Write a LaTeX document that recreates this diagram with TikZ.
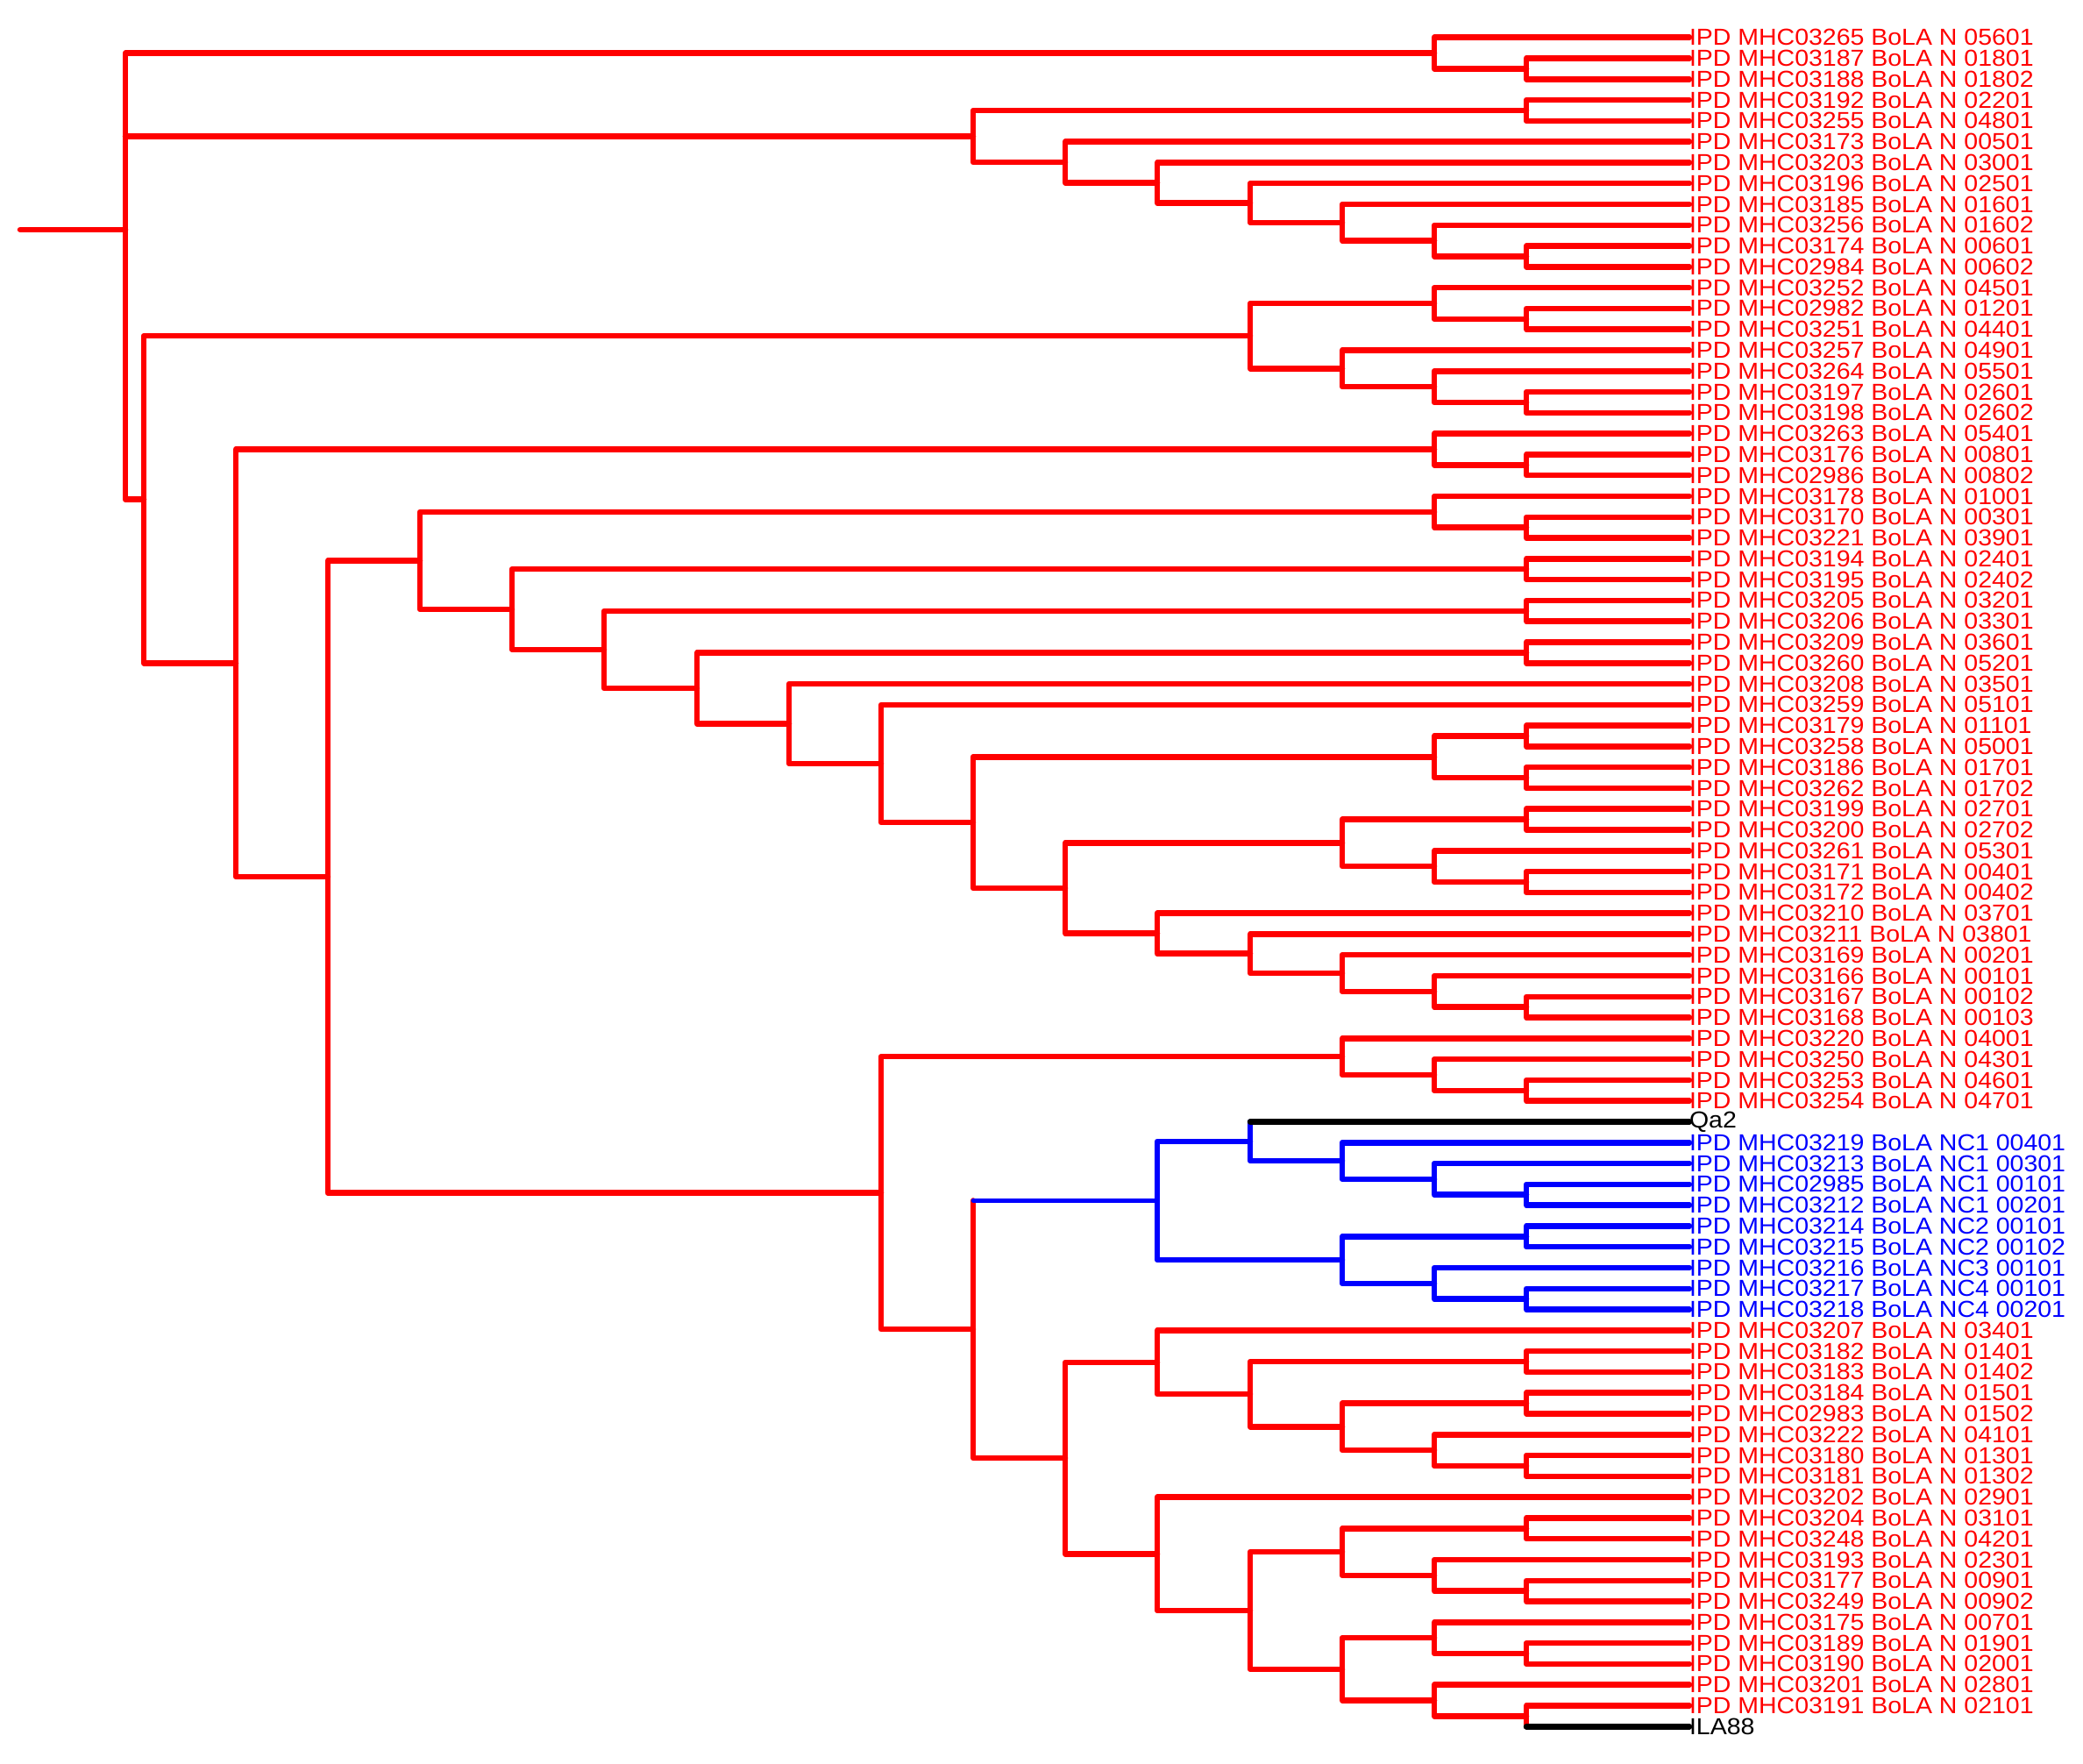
\documentclass[tikz,border=0pt]{standalone}
\usepackage{fontspec}
\newfontfamily\tipfont[FakeStretch=1.08]{Liberation Sans}
\usetikzlibrary{calc}

\begin{document}
\begin{tikzpicture}[x=0.01cm, y=-0.2377cm,
  treeline/.style={red, line width=1.85pt, line cap=round, line join=round},
  ncline/.style={treeline, blue},
  outgroup/.style={treeline, black},
  leaflabel/.style={anchor=west, inner sep=0pt, outer sep=0pt, text=red, font=\tipfont\fontsize{7.5}{8}\selectfont},
  ncleaf/.style={leaflabel, text=blue},
  outleaf/.style={leaflabel, text=black}]
\useasboundingbox (0,-0.7964) rectangle (2376,83.763);

\node[leaflabel] (t1) at (1927,1) {IPD MHC03265 BoLA N 05601};
\node[leaflabel] (t2) at (1927,2) {IPD MHC03187 BoLA N 01801};
\node[leaflabel] (t3) at (1927,3) {IPD MHC03188 BoLA N 01802};
\node[leaflabel] (t4) at (1927,4) {IPD MHC03192 BoLA N 02201};
\node[leaflabel] (t5) at (1927,5) {IPD MHC03255 BoLA N 04801};
\node[leaflabel] (t6) at (1927,6) {IPD MHC03173 BoLA N 00501};
\node[leaflabel] (t7) at (1927,7) {IPD MHC03203 BoLA N 03001};
\node[leaflabel] (t8) at (1927,8) {IPD MHC03196 BoLA N 02501};
\node[leaflabel] (t9) at (1927,9) {IPD MHC03185 BoLA N 01601};
\node[leaflabel] (t10) at (1927,10) {IPD MHC03256 BoLA N 01602};
\node[leaflabel] (t11) at (1927,11) {IPD MHC03174 BoLA N 00601};
\node[leaflabel] (t12) at (1927,12) {IPD MHC02984 BoLA N 00602};
\node[leaflabel] (t13) at (1927,13) {IPD MHC03252 BoLA N 04501};
\node[leaflabel] (t14) at (1927,14) {IPD MHC02982 BoLA N 01201};
\node[leaflabel] (t15) at (1927,15) {IPD MHC03251 BoLA N 04401};
\node[leaflabel] (t16) at (1927,16) {IPD MHC03257 BoLA N 04901};
\node[leaflabel] (t17) at (1927,17) {IPD MHC03264 BoLA N 05501};
\node[leaflabel] (t18) at (1927,18) {IPD MHC03197 BoLA N 02601};
\node[leaflabel] (t19) at (1927,19) {IPD MHC03198 BoLA N 02602};
\node[leaflabel] (t20) at (1927,20) {IPD MHC03263 BoLA N 05401};
\node[leaflabel] (t21) at (1927,21) {IPD MHC03176 BoLA N 00801};
\node[leaflabel] (t22) at (1927,22) {IPD MHC02986 BoLA N 00802};
\node[leaflabel] (t23) at (1927,23) {IPD MHC03178 BoLA N 01001};
\node[leaflabel] (t24) at (1927,24) {IPD MHC03170 BoLA N 00301};
\node[leaflabel] (t25) at (1927,25) {IPD MHC03221 BoLA N 03901};
\node[leaflabel] (t26) at (1927,26) {IPD MHC03194 BoLA N 02401};
\node[leaflabel] (t27) at (1927,27) {IPD MHC03195 BoLA N 02402};
\node[leaflabel] (t28) at (1927,28) {IPD MHC03205 BoLA N 03201};
\node[leaflabel] (t29) at (1927,29) {IPD MHC03206 BoLA N 03301};
\node[leaflabel] (t30) at (1927,30) {IPD MHC03209 BoLA N 03601};
\node[leaflabel] (t31) at (1927,31) {IPD MHC03260 BoLA N 05201};
\node[leaflabel] (t32) at (1927,32) {IPD MHC03208 BoLA N 03501};
\node[leaflabel] (t33) at (1927,33) {IPD MHC03259 BoLA N 05101};
\node[leaflabel] (t34) at (1927,34) {IPD MHC03179 BoLA N 01101};
\node[leaflabel] (t35) at (1927,35) {IPD MHC03258 BoLA N 05001};
\node[leaflabel] (t36) at (1927,36) {IPD MHC03186 BoLA N 01701};
\node[leaflabel] (t37) at (1927,37) {IPD MHC03262 BoLA N 01702};
\node[leaflabel] (t38) at (1927,38) {IPD MHC03199 BoLA N 02701};
\node[leaflabel] (t39) at (1927,39) {IPD MHC03200 BoLA N 02702};
\node[leaflabel] (t40) at (1927,40) {IPD MHC03261 BoLA N 05301};
\node[leaflabel] (t41) at (1927,41) {IPD MHC03171 BoLA N 00401};
\node[leaflabel] (t42) at (1927,42) {IPD MHC03172 BoLA N 00402};
\node[leaflabel] (t43) at (1927,43) {IPD MHC03210 BoLA N 03701};
\node[leaflabel] (t44) at (1927,44) {IPD MHC03211 BoLA N 03801};
\node[leaflabel] (t45) at (1927,45) {IPD MHC03169 BoLA N 00201};
\node[leaflabel] (t46) at (1927,46) {IPD MHC03166 BoLA N 00101};
\node[leaflabel] (t47) at (1927,47) {IPD MHC03167 BoLA N 00102};
\node[leaflabel] (t48) at (1927,48) {IPD MHC03168 BoLA N 00103};
\node[leaflabel] (t49) at (1927,49) {IPD MHC03220 BoLA N 04001};
\node[leaflabel] (t50) at (1927,50) {IPD MHC03250 BoLA N 04301};
\node[leaflabel] (t51) at (1927,51) {IPD MHC03253 BoLA N 04601};
\node[leaflabel] (t52) at (1927,52) {IPD MHC03254 BoLA N 04701};
\node[outleaf] (t53) at (1927,53) {Qa2};
\node[ncleaf] (t54) at (1927,54) {IPD MHC03219 BoLA NC1 00401};
\node[ncleaf] (t55) at (1927,55) {IPD MHC03213 BoLA NC1 00301};
\node[ncleaf] (t56) at (1927,56) {IPD MHC02985 BoLA NC1 00101};
\node[ncleaf] (t57) at (1927,57) {IPD MHC03212 BoLA NC1 00201};
\node[ncleaf] (t58) at (1927,58) {IPD MHC03214 BoLA NC2 00101};
\node[ncleaf] (t59) at (1927,59) {IPD MHC03215 BoLA NC2 00102};
\node[ncleaf] (t60) at (1927,60) {IPD MHC03216 BoLA NC3 00101};
\node[ncleaf] (t61) at (1927,61) {IPD MHC03217 BoLA NC4 00101};
\node[ncleaf] (t62) at (1927,62) {IPD MHC03218 BoLA NC4 00201};
\node[leaflabel] (t63) at (1927,63) {IPD MHC03207 BoLA N 03401};
\node[leaflabel] (t64) at (1927,64) {IPD MHC03182 BoLA N 01401};
\node[leaflabel] (t65) at (1927,65) {IPD MHC03183 BoLA N 01402};
\node[leaflabel] (t66) at (1927,66) {IPD MHC03184 BoLA N 01501};
\node[leaflabel] (t67) at (1927,67) {IPD MHC02983 BoLA N 01502};
\node[leaflabel] (t68) at (1927,68) {IPD MHC03222 BoLA N 04101};
\node[leaflabel] (t69) at (1927,69) {IPD MHC03180 BoLA N 01301};
\node[leaflabel] (t70) at (1927,70) {IPD MHC03181 BoLA N 01302};
\node[leaflabel] (t71) at (1927,71) {IPD MHC03202 BoLA N 02901};
\node[leaflabel] (t72) at (1927,72) {IPD MHC03204 BoLA N 03101};
\node[leaflabel] (t73) at (1927,73) {IPD MHC03248 BoLA N 04201};
\node[leaflabel] (t74) at (1927,74) {IPD MHC03193 BoLA N 02301};
\node[leaflabel] (t75) at (1927,75) {IPD MHC03177 BoLA N 00901};
\node[leaflabel] (t76) at (1927,76) {IPD MHC03249 BoLA N 00902};
\node[leaflabel] (t77) at (1927,77) {IPD MHC03175 BoLA N 00701};
\node[leaflabel] (t78) at (1927,78) {IPD MHC03189 BoLA N 01901};
\node[leaflabel] (t79) at (1927,79) {IPD MHC03190 BoLA N 02001};
\node[leaflabel] (t80) at (1927,80) {IPD MHC03201 BoLA N 02801};
\node[leaflabel] (t81) at (1927,81) {IPD MHC03191 BoLA N 02101};
\node[outleaf] (t82) at (1927,82) {ILA88};

\coordinate (stub) at (23,10.2162);
\coordinate (root) at (143,10.2162);
\coordinate (c2x3) at (1741,2.5);
\coordinate (c1x3) at (1636,1.75);
\coordinate (c4x5) at (1741,4.5);
\coordinate (c11x12) at (1741,11.5);
\coordinate (c10x12) at (1636,10.75);
\coordinate (c9x12) at (1531,9.875);
\coordinate (c8x12) at (1426,8.9375);
\coordinate (c7x12) at (1320,7.96875);
\coordinate (c6x12) at (1215,6.984375);
\coordinate (c4x12) at (1110,5.7421875);
\coordinate (c14x15) at (1741,14.5);
\coordinate (c13x15) at (1636,13.75);
\coordinate (c18x19) at (1741,18.5);
\coordinate (c17x19) at (1636,17.75);
\coordinate (c16x19) at (1531,16.875);
\coordinate (c13x19) at (1426,15.3125);
\coordinate (c21x22) at (1741,21.5);
\coordinate (c20x22) at (1636,20.75);
\coordinate (c24x25) at (1741,24.5);
\coordinate (c23x25) at (1636,23.75);
\coordinate (c26x27) at (1741,26.5);
\coordinate (c28x29) at (1741,28.5);
\coordinate (c30x31) at (1741,30.5);
\coordinate (c34x35) at (1741,34.5);
\coordinate (c36x37) at (1741,36.5);
\coordinate (c34x37) at (1636,35.5);
\coordinate (c38x39) at (1741,38.5);
\coordinate (c41x42) at (1741,41.5);
\coordinate (c40x42) at (1636,40.75);
\coordinate (c38x42) at (1531,39.625);
\coordinate (c47x48) at (1741,47.5);
\coordinate (c46x48) at (1636,46.75);
\coordinate (c45x48) at (1531,45.875);
\coordinate (c44x48) at (1426,44.9375);
\coordinate (c43x48) at (1320,43.96875);
\coordinate (c38x48) at (1215,41.796875);
\coordinate (c34x48) at (1110,38.6484);
\coordinate (c33x48) at (1005,35.8242);
\coordinate (c32x48) at (900,33.9121);
\coordinate (c30x48) at (795,32.2061);
\coordinate (c28x48) at (689,30.3530);
\coordinate (c26x48) at (584,28.4265);
\coordinate (c23x48) at (479,26.0883);
\coordinate (c51x52) at (1741,51.5);
\coordinate (c50x52) at (1636,50.75);
\coordinate (c49x52) at (1531,49.875);
\coordinate (c56x57) at (1741,56.5);
\coordinate (c55x57) at (1636,55.75);
\coordinate (c54x57) at (1531,54.875);
\coordinate (c53x57) at (1426,53.9375);
\coordinate (c58x59) at (1741,58.5);
\coordinate (c61x62) at (1741,61.5);
\coordinate (c60x62) at (1636,60.75);
\coordinate (c58x62) at (1531,59.625);
\coordinate (c53x62) at (1320,56.78125);
\coordinate (c64x65) at (1741,64.5);
\coordinate (c66x67) at (1741,66.5);
\coordinate (c69x70) at (1741,69.5);
\coordinate (c68x70) at (1636,68.75);
\coordinate (c66x70) at (1531,67.625);
\coordinate (c64x70) at (1426,66.0625);
\coordinate (c63x70) at (1320,64.53125);
\coordinate (c72x73) at (1741,72.5);
\coordinate (c75x76) at (1741,75.5);
\coordinate (c74x76) at (1636,74.75);
\coordinate (c72x76) at (1531,73.625);
\coordinate (c78x79) at (1741,78.5);
\coordinate (c77x79) at (1636,77.75);
\coordinate (c81x82) at (1741,81.5);
\coordinate (c80x82) at (1636,80.75);
\coordinate (c77x82) at (1531,79.25);
\coordinate (c72x82) at (1426,76.4375);
\coordinate (c71x82) at (1320,73.71875);
\coordinate (c63x82) at (1215,69.125);
\coordinate (c53x82) at (1110,62.953125);
\coordinate (c49x82) at (1005,56.4141);
\coordinate (c23x82) at (374,41.2512);
\coordinate (c20x82) at (269,31.0006);
\coordinate (c13x82) at (164,23.1565);

\draw[treeline] (stub) -- (root);
\draw[treeline] (c1x3) -| (root) |- (c13x82);
\draw[treeline] (root |- c4x12) -- (c4x12);
\draw[treeline] (t1.west) -| (c1x3) |- (c2x3);
\draw[treeline] (t2.west) -| (c2x3) |- (t3.west);
\draw[treeline] (c4x5) -| (c4x12) |- (c6x12);
\draw[treeline] (t4.west) -| (c4x5) |- (t5.west);
\draw[treeline] (t6.west) -| (c6x12) |- (c7x12);
\draw[treeline] (t7.west) -| (c7x12) |- (c8x12);
\draw[treeline] (t8.west) -| (c8x12) |- (c9x12);
\draw[treeline] (t9.west) -| (c9x12) |- (c10x12);
\draw[treeline] (t10.west) -| (c10x12) |- (c11x12);
\draw[treeline] (t11.west) -| (c11x12) |- (t12.west);
\draw[treeline] (c13x19) -| (c13x82) |- (c20x82);
\draw[treeline] (c13x15) -| (c13x19) |- (c16x19);
\draw[treeline] (t13.west) -| (c13x15) |- (c14x15);
\draw[treeline] (t14.west) -| (c14x15) |- (t15.west);
\draw[treeline] (t16.west) -| (c16x19) |- (c17x19);
\draw[treeline] (t17.west) -| (c17x19) |- (c18x19);
\draw[treeline] (t18.west) -| (c18x19) |- (t19.west);
\draw[treeline] (c20x22) -| (c20x82) |- (c23x82);
\draw[treeline] (t20.west) -| (c20x22) |- (c21x22);
\draw[treeline] (t21.west) -| (c21x22) |- (t22.west);
\draw[treeline] (c23x48) -| (c23x82) |- (c49x82);
\draw[treeline] (c23x25) -| (c23x48) |- (c26x48);
\draw[treeline] (t23.west) -| (c23x25) |- (c24x25);
\draw[treeline] (t24.west) -| (c24x25) |- (t25.west);
\draw[treeline] (c26x27) -| (c26x48) |- (c28x48);
\draw[treeline] (t26.west) -| (c26x27) |- (t27.west);
\draw[treeline] (c28x29) -| (c28x48) |- (c30x48);
\draw[treeline] (t28.west) -| (c28x29) |- (t29.west);
\draw[treeline] (c30x31) -| (c30x48) |- (c32x48);
\draw[treeline] (t30.west) -| (c30x31) |- (t31.west);
\draw[treeline] (t32.west) -| (c32x48) |- (c33x48);
\draw[treeline] (t33.west) -| (c33x48) |- (c34x48);
\draw[treeline] (c34x37) -| (c34x48) |- (c38x48);
\draw[treeline] (c34x35) -| (c34x37) |- (c36x37);
\draw[treeline] (t34.west) -| (c34x35) |- (t35.west);
\draw[treeline] (t36.west) -| (c36x37) |- (t37.west);
\draw[treeline] (c38x42) -| (c38x48) |- (c43x48);
\draw[treeline] (c38x39) -| (c38x42) |- (c40x42);
\draw[treeline] (t38.west) -| (c38x39) |- (t39.west);
\draw[treeline] (t40.west) -| (c40x42) |- (c41x42);
\draw[treeline] (t41.west) -| (c41x42) |- (t42.west);
\draw[treeline] (t43.west) -| (c43x48) |- (c44x48);
\draw[treeline] (t44.west) -| (c44x48) |- (c45x48);
\draw[treeline] (t45.west) -| (c45x48) |- (c46x48);
\draw[treeline] (t46.west) -| (c46x48) |- (c47x48);
\draw[treeline] (t47.west) -| (c47x48) |- (t48.west);
\draw[treeline] (c49x52) -| (c49x82) |- (c53x82);
\draw[treeline] (t49.west) -| (c49x52) |- (c50x52);
\draw[treeline] (t50.west) -| (c50x52) |- (c51x52);
\draw[treeline] (t51.west) -| (c51x52) |- (t52.west);
\draw[treeline] (c53x82 |- c53x62) |- (c63x82);
\draw[ncline, line width=1.3pt] (c53x82 |- c53x62) -- (c53x62);
\draw[ncline] (c53x57) -| (c53x62) |- (c58x62);
\draw[ncline] (c53x57 |- t53.west) |- (c54x57);
\draw[outgroup] (c53x57 |- t53.west) -- (t53.west);
\draw[ncline] (t54.west) -| (c54x57) |- (c55x57);
\draw[ncline] (t55.west) -| (c55x57) |- (c56x57);
\draw[ncline] (t56.west) -| (c56x57) |- (t57.west);
\draw[ncline] (c58x59) -| (c58x62) |- (c60x62);
\draw[ncline] (t58.west) -| (c58x59) |- (t59.west);
\draw[ncline] (t60.west) -| (c60x62) |- (c61x62);
\draw[ncline] (t61.west) -| (c61x62) |- (t62.west);
\draw[treeline] (c63x70) -| (c63x82) |- (c71x82);
\draw[treeline] (t63.west) -| (c63x70) |- (c64x70);
\draw[treeline] (c64x65) -| (c64x70) |- (c66x70);
\draw[treeline] (t64.west) -| (c64x65) |- (t65.west);
\draw[treeline] (c66x67) -| (c66x70) |- (c68x70);
\draw[treeline] (t66.west) -| (c66x67) |- (t67.west);
\draw[treeline] (t68.west) -| (c68x70) |- (c69x70);
\draw[treeline] (t69.west) -| (c69x70) |- (t70.west);
\draw[treeline] (t71.west) -| (c71x82) |- (c72x82);
\draw[treeline] (c72x76) -| (c72x82) |- (c77x82);
\draw[treeline] (c72x73) -| (c72x76) |- (c74x76);
\draw[treeline] (t72.west) -| (c72x73) |- (t73.west);
\draw[treeline] (t74.west) -| (c74x76) |- (c75x76);
\draw[treeline] (t75.west) -| (c75x76) |- (t76.west);
\draw[treeline] (c77x79) -| (c77x82) |- (c80x82);
\draw[treeline] (t77.west) -| (c77x79) |- (c78x79);
\draw[treeline] (t78.west) -| (c78x79) |- (t79.west);
\draw[treeline] (t80.west) -| (c80x82) |- (c81x82);
\draw[treeline] (t81.west) -| (c81x82) -- (c81x82 |- t82.west);
\draw[outgroup] (c81x82 |- t82.west) -- (t82.west);
\end{tikzpicture}
\end{document}
